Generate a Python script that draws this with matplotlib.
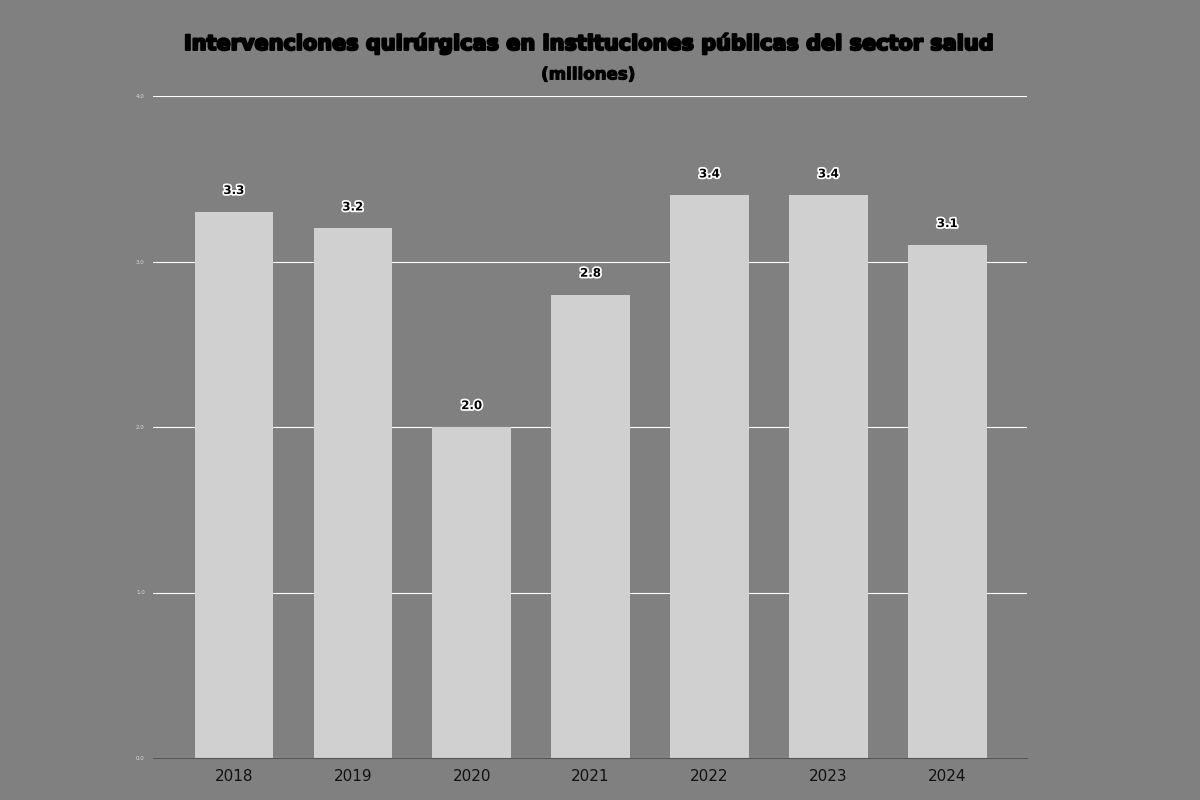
import matplotlib.pyplot as plt
import matplotlib.patheffects as pe

# datos
years = ['2018', '2019', '2020', '2021', '2022', '2023', '2024']
values = [3.3, 3.2, 2.0, 2.8, 3.4, 3.4, 3.1]
yticks = [0, 1, 2, 3, 4]

bg = '#808080'
fig = plt.figure(figsize=(12, 8), dpi=100, facecolor=bg)
ax = fig.add_axes([0.1275, 0.0525, 0.7283, 0.8275], facecolor=bg)

x = range(len(years))
ax.bar(x, values, width=0.66, color='#d0d0d0', zorder=3)

for i, v in zip(x, values):
    ax.text(i, v + 0.09, f'{v:.1f}', ha='center', va='bottom', fontsize=8.5,
            fontweight='bold', color='black', zorder=4,
            path_effects=[pe.withStroke(linewidth=2.5, foreground='white')])

ax.set_xlim(-0.68, 6.67)
ax.set_ylim(0, 4)
ax.set_xticks(list(x))
ax.set_xticklabels(years, fontsize=11, color='#111111')
ax.set_yticks(yticks)
ax.set_yticklabels([f'{t:.1f}' for t in yticks], fontsize=4, color='#dddddd')
ax.tick_params(axis='both', length=0)
ax.tick_params(axis='x', pad=8)
ax.tick_params(axis='y', pad=6)
ax.grid(axis='y', color='white', linewidth=0.8, zorder=0)
for s in ['top', 'right', 'left']:
    ax.spines[s].set_visible(False)
ax.spines['bottom'].set_color('#555555')
ax.spines['bottom'].set_zorder(5)

fig.text(0.4917, 0.946, 'Intervenciones quirúrgicas en instituciones públicas del sector salud',
         ha='center', va='center', fontsize=15, fontweight='black', color='black',
         path_effects=[pe.withStroke(linewidth=1.5, foreground='black')])
fig.text(0.49, 0.907, '(millones)', ha='center', va='center', fontsize=12,
         fontweight='bold', color='black',
         path_effects=[pe.withStroke(linewidth=0.8, foreground='black')])

fig.savefig('out.png', dpi=100, facecolor=bg)
